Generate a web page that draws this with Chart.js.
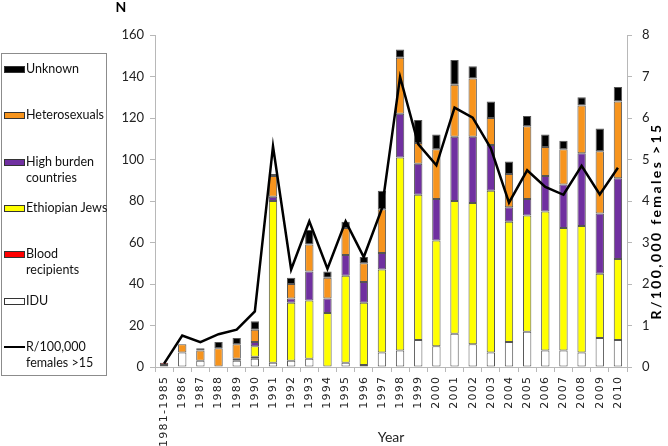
<!DOCTYPE html>
<html>
<head>
<meta charset="utf-8">
<script src="https://cdn.jsdelivr.net/npm/chart.js@4.4.1/dist/chart.umd.min.js"></script>
<style>
  html, body { margin: 0; padding: 0; background: #fff; }
  #wrap { position: relative; width: 668px; height: 446px; }
  #legend {
    position: absolute; left: 1px; top: 53px; width: 106px; height: 323px;
    border: 1px solid #8c8c8c; box-sizing: border-box;
    font-family: Lato, "Liberation Sans", sans-serif; font-size: 12.5px; color: #111;
  }
  .item { position: absolute; left: 2px; line-height: 16px; white-space: pre; }
  .item .txt { position: absolute; left: 22px; top: 0; }
  .sw { position: absolute; left: 0; top: 5px; width: 19px; height: 5px; border: 1px solid #333; }
  .ln { position: absolute; left: 0; top: 7px; width: 21px; height: 2px; background: #000; }
</style>
</head>
<body>
<div id="wrap">
  <canvas id="chart" width="668" height="446"></canvas>
  <div id="legend"></div>
</div>
<script>
// categories
const years = ['1981-1985', '1986', '1987', '1988', '1989', '1990', '1991', '1992', '1993',
  '1994', '1995', '1996', '1997', '1998', '1999', '2000', '2001', '2002', '2003', '2004',
  '2005', '2006', '2007', '2008', '2009', '2010'];

// number of cases per transmission group (stacked, bottom to top)
const idu        = [1, 7, 3, 0, 3, 4, 2, 3, 4, 0, 2, 1, 7, 8, 13, 10, 16, 11, 7, 12, 17, 8, 8, 7, 14, 13];
const blood      = [1, 0, 0, 0, 0, 1, 0, 0, 0, 0, 0, 0, 0, 0, 0, 0, 0, 0, 0, 0, 0, 0, 0, 0, 0, 0];
const ethiopian  = [0, 0, 0, 0, 0, 5, 78, 28, 28, 26, 42, 30, 40, 93, 70, 51, 64, 68, 78, 58, 56, 67, 59, 61, 31, 39];
const highBurden = [0, 0, 0, 0, 1, 2, 2, 2, 14, 7, 10, 10, 8, 21, 15, 20, 31, 32, 22, 7, 8, 17, 21, 35, 29, 39];
const hetero     = [0, 4, 5, 9, 7, 6, 10, 7, 13, 10, 13, 9, 21, 27, 10, 24, 25, 28, 13, 16, 35, 14, 17, 23, 30, 37];
const unknown    = [0, 0, 1, 3, 3, 4, 1, 3, 7, 3, 3, 3, 9, 4, 11, 7, 12, 6, 8, 6, 5, 6, 4, 4, 11, 7];

// rate per 100,000 females over 15 (right axis)
const rate = [0.08, 0.76, 0.60, 0.79, 0.90, 1.34, 5.32, 2.35, 3.51, 2.37, 3.51, 2.65, 3.82, 6.99,
  5.37, 4.86, 6.25, 6.01, 5.27, 3.96, 4.74, 4.34, 4.15, 4.85, 4.16, 4.80];

// axis ticks
const countTicks = [0, 20, 40, 60, 80, 100, 120, 140, 160];
const rateTicks = [0, 1, 2, 3, 4, 5, 6, 7, 8];

const seriesNames = ['IDU', 'Blood\nrecipients', 'Ethiopian Jews', 'High burden\ncountries', 'Heterosexuals', 'Unknown'];
const seriesColors = ['#ffffff', '#ff0000', '#ffff00', '#7030a0', '#f7941d', '#000000'];
const rateName = 'R/100,000\nfemales >15';

const FONT = 'Lato, "Liberation Sans", sans-serif';
const AXIS_GREY = '#b8b8b8';

const barSeries = [idu, blood, ethiopian, highBurden, hetero, unknown];

const datasets = barSeries.map((values, i) => ({
  type: 'bar',
  label: seriesNames[i],
  data: values,
  backgroundColor: seriesColors[i],
  borderColor: '#555555',
  borderWidth: 1,
  borderSkipped: false,
  barPercentage: 0.46,
  categoryPercentage: 1.0,
  yAxisID: 'y',
  order: 1
}));

datasets.push({
  type: 'line',
  label: rateName,
  data: rate,
  borderColor: '#000000',
  borderWidth: 2.5,
  pointRadius: 0,
  tension: 0,
  yAxisID: 'y1',
  order: 0
});

// spacing needed so that `text` drawn in the current font is `target` px long
function spacingFor(ctx, text, target) {
  ctx.letterSpacing = '0px';
  const w = ctx.measureText(text).width;
  return Math.max(0, (target - w) / text.length);
}

// year labels (stretched like the original), "N" and the right-hand title
const axisText = {
  id: 'axisText',
  afterDraw(chart) {
    const { ctx, chartArea } = chart;
    const xs = chart.scales.x;
    ctx.save();
    ctx.fillStyle = '#222';

    ctx.font = '11px "DejaVu Sans", sans-serif';
    const sp = spacingFor(ctx, '1986', 33);
    ctx.letterSpacing = sp + 'px';
    ctx.textAlign = 'right';
    ctx.textBaseline = 'middle';
    years.forEach((lab, i) => {
      ctx.save();
      ctx.translate(xs.getPixelForTick(i), xs.top + 10 - sp);
      ctx.rotate(-Math.PI / 2);
      ctx.fillText(lab, 0, 0);
      ctx.restore();
    });

    ctx.fillStyle = '#000';
    ctx.textAlign = 'center';
    ctx.font = 'bold 14px ' + FONT;
    ctx.letterSpacing = '0px';
    ctx.fillText('N', chartArea.left - 34, chartArea.top - 28);

    const title = rateName.replace('\n', ' ');
    ctx.font = 'bold 14px ' + FONT;
    const tsp = spacingFor(ctx, title, 197);
    ctx.letterSpacing = tsp + 'px';
    ctx.translate(chart.width - 12, (chartArea.top + chartArea.bottom) / 2 + 20);
    ctx.rotate(-Math.PI / 2);
    ctx.fillText(title, 0, 0);
    ctx.restore();
  }
};

function buildLegend() {
  const box = document.getElementById('legend');
  const entries = [];
  for (let i = datasets.length - 2; i >= 0; i--) {
    entries.push({ text: datasets[i].label, color: datasets[i].backgroundColor, line: false });
  }
  entries.push({ text: rateName, line: true });
  entries.forEach((e, i) => {
    const div = document.createElement('div');
    div.className = 'item';
    div.style.top = (7 + i * 46.3) + 'px';
    const mark = document.createElement('div');
    if (e.line) {
      mark.className = 'ln';
    } else {
      mark.className = 'sw';
      mark.style.background = e.color;
    }
    const txt = document.createElement('div');
    txt.className = 'txt';
    txt.textContent = e.text;
    div.appendChild(mark);
    div.appendChild(txt);
    box.appendChild(div);
  });
}

const gridStyle = {
  display: true,
  drawOnChartArea: false,
  drawTicks: true,
  tickLength: 5,
  color: AXIS_GREY
};

new Chart(document.getElementById('chart'), {
  data: { labels: years, datasets: datasets },
  plugins: [axisText],
  options: {
    responsive: false,
    animation: false,
    layout: { padding: { top: 35, left: 0, right: 0, bottom: 0 } },
    plugins: {
      legend: { display: false },
      tooltip: { enabled: false }
    },
    scales: {
      x: {
        stacked: true,
        grid: Object.assign({}, gridStyle, { offset: true }),
        border: { display: true, color: AXIS_GREY, width: 1 },
        ticks: { display: false, autoSkip: false },
        title: {
          display: true,
          text: 'Year',
          color: '#222',
          padding: { top: 0, bottom: 0 },
          font: { family: FONT, size: 14 }
        },
        afterFit(scale) { scale.height = 79; }
      },
      y: {
        position: 'left',
        stacked: true,
        min: 0,
        max: 160,
        grid: gridStyle,
        border: { display: true, color: AXIS_GREY, width: 1 },
        afterBuildTicks(scale) { scale.ticks = countTicks.map(v => ({ value: v })); },
        ticks: {
          padding: 6,
          color: '#222',
          font: { family: FONT, size: 13 }
        },
        afterFit(scale) { scale.width = 155; }
      },
      y1: {
        position: 'right',
        stacked: false,
        min: 0,
        max: 8,
        grid: gridStyle,
        border: { display: true, color: AXIS_GREY, width: 1 },
        afterBuildTicks(scale) { scale.ticks = rateTicks.map(v => ({ value: v })); },
        ticks: {
          padding: 10,
          color: '#222',
          font: { family: FONT, size: 13 }
        },
        afterFit(scale) { scale.width = 41; }
      }
    }
  }
});

buildLegend();
</script>
</body>
</html>
